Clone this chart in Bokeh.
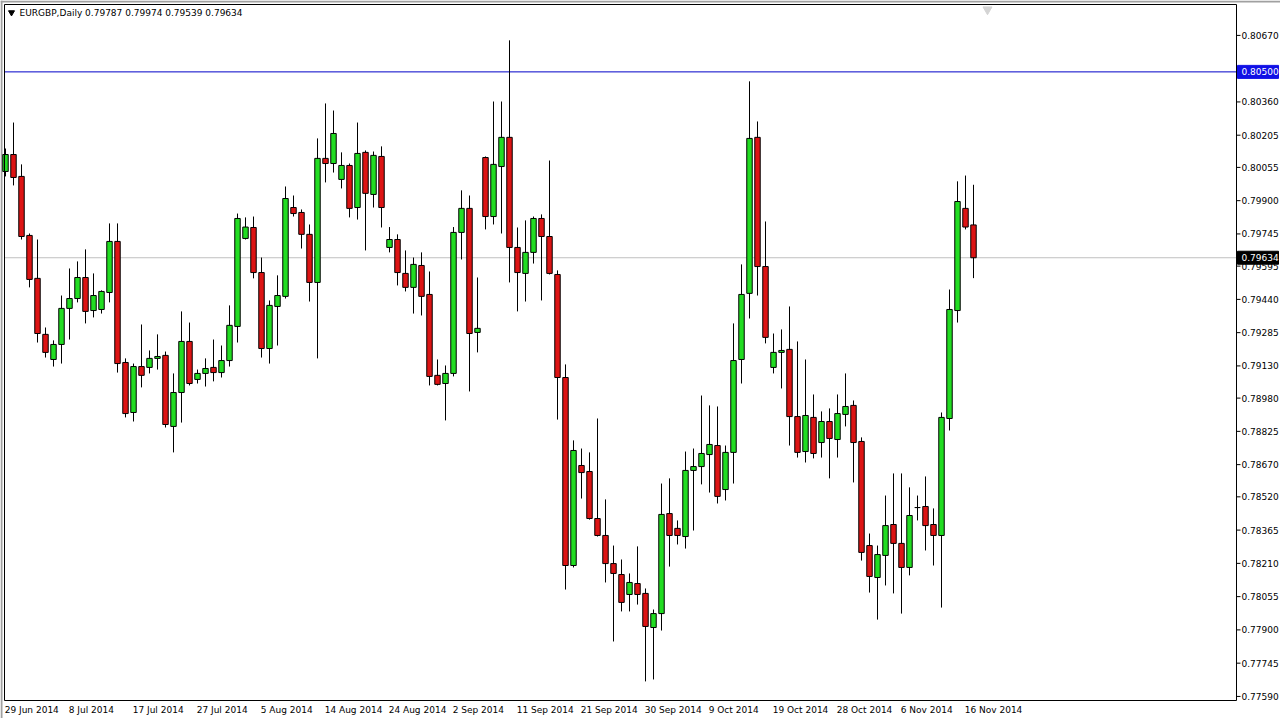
from bokeh.plotting import figure
from bokeh.models import Range1d, ColumnDataSource
from bokeh.core.properties import value
from bokeh.embed import file_html
from bokeh.resources import INLINE

symbol = "EURGBP,Daily"

opens = [0.80036, 0.80115, 0.80013, 0.79738, 0.79538, 0.79277, 0.79160, 0.79230, 0.79398, 0.79444,
         0.79542, 0.79388, 0.79393, 0.79472, 0.79710, 0.79146, 0.78913, 0.79127, 0.79123, 0.79165,
         0.79179, 0.78848, 0.79006, 0.79244, 0.79067, 0.79095, 0.79123, 0.79099, 0.79155, 0.79314,
         0.79724, 0.79775, 0.79565, 0.79211, 0.79407, 0.79454, 0.79868, 0.79845, 0.79743, 0.79519,
         0.80097, 0.80073, 0.79999, 0.80064, 0.79868, 0.80125, 0.79929, 0.80106, 0.79682, 0.79719,
         0.79561, 0.79496, 0.79598, 0.79463, 0.79086, 0.79048, 0.79095, 0.79752, 0.79864, 0.79286,
         0.80101, 0.79826, 0.80059, 0.80195, 0.79682, 0.79561, 0.79659, 0.79817, 0.79733, 0.79556,
         0.79076, 0.78200, 0.78666, 0.78638, 0.78419, 0.78340, 0.78209, 0.78158, 0.78065, 0.78116,
         0.78070, 0.77911, 0.77976, 0.78442, 0.78373, 0.78335, 0.78643, 0.78661, 0.78717, 0.78759,
         0.78554, 0.78727, 0.79160, 0.79468, 0.80195, 0.79593, 0.79123, 0.79193, 0.79207, 0.78894,
         0.78731, 0.78890, 0.78773, 0.78871, 0.78787, 0.78904, 0.78946, 0.78778, 0.78293, 0.78144,
         0.78247, 0.78391, 0.78303, 0.78191, 0.78470, 0.78475, 0.78391, 0.78340, 0.78885, 0.79388,
         0.79864, 0.79787]
highs = [0.80143, 0.80264, 0.80069, 0.79747, 0.79719, 0.79309, 0.79249, 0.79458, 0.79584, 0.79617,
         0.79673, 0.79561, 0.79482, 0.79794, 0.79794, 0.79165, 0.79141, 0.79323, 0.79202, 0.79277,
         0.79197, 0.79095, 0.79384, 0.79332, 0.79113, 0.79165, 0.79253, 0.79225, 0.79412, 0.79840,
         0.79822, 0.79826, 0.79635, 0.79435, 0.79552, 0.79966, 0.79924, 0.79859, 0.79789, 0.80190,
         0.80353, 0.80320, 0.80125, 0.80073, 0.80264, 0.80134, 0.80129, 0.80153, 0.79777, 0.79743,
         0.79668, 0.79635, 0.79659, 0.79570, 0.79160, 0.79132, 0.79777, 0.79948, 0.79924, 0.79542,
         0.80106, 0.80362, 0.80362, 0.80647, 0.79775, 0.79808, 0.79826, 0.79836, 0.80087, 0.79575,
         0.79137, 0.78783, 0.78745, 0.78727, 0.78885, 0.78508, 0.78293, 0.78228, 0.78163, 0.78289,
         0.78093, 0.77995, 0.78582, 0.78606, 0.78410, 0.78731, 0.78745, 0.78992, 0.78946, 0.78941,
         0.78759, 0.79328, 0.79603, 0.80456, 0.80269, 0.79803, 0.79281, 0.79300, 0.79407, 0.79244,
         0.79160, 0.78997, 0.78918, 0.78932, 0.78997, 0.79095, 0.78969, 0.78797, 0.78349, 0.78293,
         0.78526, 0.78629, 0.78629, 0.78564, 0.78526, 0.78615, 0.78466, 0.78913, 0.79486, 0.79990,
         0.80017, 0.79974]
lows = [0.80013, 0.79971, 0.79719, 0.79496, 0.79239, 0.79169, 0.79127, 0.79141, 0.79253, 0.79426,
        0.79328, 0.79356, 0.79374, 0.79426, 0.79099, 0.78890, 0.78871, 0.79030, 0.79095, 0.79113,
        0.78843, 0.78727, 0.78866, 0.79039, 0.79048, 0.79034, 0.79058, 0.79076, 0.79127, 0.79239,
        0.79719, 0.79538, 0.79169, 0.79141, 0.79225, 0.79444, 0.79826, 0.79677, 0.79430, 0.79165,
        0.79985, 0.80031, 0.79957, 0.79822, 0.79812, 0.79668, 0.79868, 0.79775, 0.79659, 0.79505,
        0.79477, 0.79374, 0.79365, 0.79039, 0.79039, 0.78876, 0.79081, 0.79626, 0.79011, 0.79193,
        0.79766, 0.79789, 0.79747, 0.79519, 0.79384, 0.79430, 0.79607, 0.79435, 0.79556, 0.78880,
        0.78088, 0.78191, 0.78512, 0.78414, 0.78335, 0.78121, 0.77846, 0.77986, 0.77986, 0.78018,
        0.77660, 0.77669, 0.77897, 0.78195, 0.78298, 0.78279, 0.78363, 0.78578, 0.78540, 0.78489,
        0.78503, 0.78582, 0.79048, 0.79351, 0.79458, 0.79235, 0.79095, 0.79025, 0.78759, 0.78703,
        0.78680, 0.78699, 0.78703, 0.78606, 0.78703, 0.78848, 0.78587, 0.78223, 0.78074, 0.77948,
        0.78107, 0.78070, 0.77976, 0.78154, 0.78410, 0.78270, 0.78200, 0.78004, 0.78829, 0.79332,
        0.79766, 0.79539]
closes = [0.80115, 0.80008, 0.79733, 0.79533, 0.79281, 0.79193, 0.79230, 0.79398, 0.79444, 0.79542,
          0.79384, 0.79458, 0.79477, 0.79710, 0.79141, 0.78908, 0.79127, 0.79086, 0.79165, 0.79174,
          0.78857, 0.79006, 0.79244, 0.79048, 0.79095, 0.79118, 0.79099, 0.79155, 0.79319, 0.79817,
          0.79777, 0.79565, 0.79211, 0.79412, 0.79458, 0.79910, 0.79840, 0.79743, 0.79519, 0.80097,
          0.80073, 0.80213, 0.80064, 0.79864, 0.80120, 0.79934, 0.80111, 0.79868, 0.79719, 0.79565,
          0.79496, 0.79603, 0.79454, 0.79081, 0.79044, 0.79095, 0.79752, 0.79864, 0.79281, 0.79305,
          0.79826, 0.80069, 0.80195, 0.79682, 0.79565, 0.79659, 0.79817, 0.79733, 0.79561, 0.79076,
          0.78200, 0.78736, 0.78633, 0.78419, 0.78340, 0.78209, 0.78163, 0.78028, 0.78121, 0.78065,
          0.77916, 0.77976, 0.78438, 0.78340, 0.78340, 0.78643, 0.78661, 0.78722, 0.78764, 0.78522,
          0.78727, 0.79155, 0.79463, 0.80190, 0.79593, 0.79263, 0.79193, 0.79202, 0.78894, 0.78727,
          0.78899, 0.78722, 0.78871, 0.78792, 0.78908, 0.78941, 0.78773, 0.78261, 0.78149, 0.78251,
          0.78386, 0.78303, 0.78191, 0.78433, 0.78470, 0.78386, 0.78340, 0.78890, 0.79393, 0.79896,
          0.79777, 0.79634]

date_label_bars = [0, 8, 16, 24, 32, 40, 48, 56, 64, 72, 80, 88, 96, 104, 112, 120]
date_labels = ["29 Jun 2014", "8 Jul 2014", "17 Jul 2014", "27 Jul 2014", "5 Aug 2014",
               "14 Aug 2014", "24 Aug 2014", "2 Sep 2014", "11 Sep 2014", "21 Sep 2014",
               "30 Sep 2014", "9 Oct 2014", "19 Oct 2014", "28 Oct 2014", "6 Nov 2014",
               "16 Nov 2014"]
price_ticks = [0.80670, 0.80360, 0.80205, 0.80055, 0.79900, 0.79745, 0.79595, 0.79440,
               0.79285, 0.79130, 0.78980, 0.78825, 0.78670, 0.78520, 0.78365, 0.78210,
               0.78055, 0.77900, 0.77745, 0.77590]
level_price = 0.80500
price_top, price_bottom = 0.80814, 0.77571   # visible price window of the chart panel
shift_marker_bar = 122.75

# ---- layout (pixels) ----
W, H = 1280, 718
PX_BAR = 8.0
BAR0_PX = 5
CH_L, CH_R, CH_T, CH_B = 4, 1236, 4, 700
K = (CH_B - CH_T) / (price_top - price_bottom)


def xd(px):
    return (px - BAR0_PX) / PX_BAR


def yd(py):
    return price_top - (py - CH_T) / K


FONT = value("DejaVu Sans")
BULL = "#22dd22"
BEAR = "#dd1414"

idx = list(range(len(opens)))
src = ColumnDataSource(dict(
    x=idx, high=highs, low=lows,
    top=[max(o, c) for o, c in zip(opens, closes)],
    bottom=[min(o, c) for o, c in zip(opens, closes)],
    color=[BULL if c >= o else BEAR for o, c in zip(opens, closes)],
))

p = figure(width=W, height=H, output_backend="svg", toolbar_location=None,
           x_range=Range1d(xd(0), xd(W)), y_range=Range1d(yd(H), yd(0)),
           x_axis_location=None, y_axis_location=None,
           min_border_left=0, min_border_right=0, min_border_top=0, min_border_bottom=0)
p.xgrid.visible = False
p.ygrid.visible = False
p.outline_line_color = None
p.background_fill_color = "white"
p.border_fill_color = "white"

xl, xr, yt, yb = xd(CH_L), xd(CH_R), yd(CH_T), yd(CH_B)

# window border (top / left)
p.segment(x0=[xd(0), xd(1)], y0=[yd(1), yd(0)], x1=[xd(W), xd(1)], y1=[yd(1), yd(H)],
          line_color="#a0a0a0", line_width=2)

# horizontal price lines
p.segment(x0=[xl], y0=[level_price], x1=[xr], y1=[level_price], line_color="#0000c8", line_width=1)
p.segment(x0=[xl], y0=[closes[-1]], x1=[xr], y1=[closes[-1]], line_color="#c0c0c0", line_width=1)

# candles
p.segment(x0="x", y0="low", x1="x", y1="high", source=src, line_color="black", line_width=1)
p.vbar(x="x", top="top", bottom="bottom", width=0.68, source=src,
       fill_color="color", line_color="black", line_width=1)

# chart frame
p.segment(x0=[xl, xr, xl, xl], y0=[yb, yb, yt, yb], x1=[xl, xr, xr, xr], y1=[yt, yt, yt, yb],
          line_color="black", line_width=1)

# price scale: ticks and labels
p.segment(x0=[xr] * len(price_ticks), y0=price_ticks, x1=[xd(CH_R + 4)] * len(price_ticks),
          y1=price_ticks, line_color="black", line_width=1)
p.text(x=[xd(CH_R + 5)] * len(price_ticks), y=price_ticks,
       text=[f"{t:.5f}" for t in price_ticks], text_font=FONT, text_font_size="9px",
       text_baseline="middle", text_align="left", text_color="black")

# price boxes
box_levels = [level_price, closes[-1]]
box_colors = ["#1010e6", "black"]
half_h = 6.5 / K
p.quad(left=[xd(CH_R + 1)] * 2, right=[xd(CH_R + 42)] * 2,
       top=[b + half_h for b in box_levels], bottom=[b - half_h for b in box_levels],
       fill_color=box_colors, line_color=box_colors)
p.text(x=[xd(CH_R + 5)] * 2, y=box_levels, text=[f"{b:.5f}" for b in box_levels],
       text_font=FONT, text_font_size="9px", text_baseline="middle", text_align="left",
       text_color="white")

# date labels under the chart
p.text(x=[b - 0.1 for b in date_label_bars], y=[yd(CH_B + 4)] * len(date_label_bars),
       text=date_labels, text_font=FONT, text_font_size="9px", text_baseline="top",
       text_align="left", text_color="black")

# header
p.scatter(x=[xd(CH_L + 7)], y=[yd(CH_T + 8)], marker="inverted_triangle", size=6,
          fill_color="black", line_color="black")
header = f"{symbol}  {opens[-1]:.5f} {highs[-1]:.5f} {lows[-1]:.5f} {closes[-1]:.5f}"
p.text(x=[xd(CH_L + 15)], y=[yd(CH_T + 3)], text=[header], text_font=FONT,
       text_font_size="9px", text_baseline="top", text_align="left", text_color="black")

# chart shift marker under the top border
p.scatter(x=[shift_marker_bar], y=[yd(CH_T + 5)], marker="inverted_triangle", size=9,
          fill_color="#d4d4d4", line_color="#d4d4d4")

open("out.html", "w").write(file_html(p, INLINE))
